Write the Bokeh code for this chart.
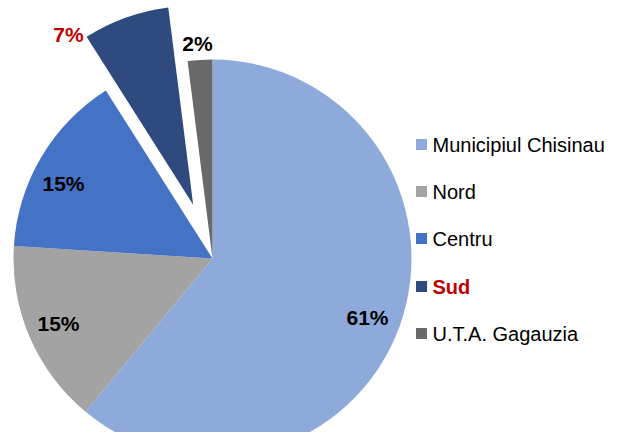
import numpy as np
from bokeh.plotting import figure
from bokeh.models import Range1d
from bokeh.core.properties import value
from bokeh.embed import file_html
from bokeh.resources import INLINE

# ---- data ----
regions = ["Municipiul Chisinau", "Nord", "Centru", "Sud", "U.T.A. Gagauzia"]
shares = [61, 15, 15, 7, 2]
labels = ["61%", "15%", "15%", "7%", "2%"]

# ---- style ----
colors = ["#8EAADB", "#A3A3A3", "#4472C4", "#2E4A7E", "#6A6A6A"]
label_colors = ["#000000", "#000000", "#000000", "#C00000", "#000000"]
legend_colors = ["#000000", "#000000", "#000000", "#C00000", "#000000"]
legend_styles = ["normal", "normal", "normal", "bold", "normal"]
explode = [0, 0, 0, 57, 0]

W, H = 611, 432
cx, cy, R = 212, 174, 199

p = figure(width=W, height=H, output_backend="svg", toolbar_location=None,
           x_range=Range1d(0, W), y_range=Range1d(0, H),
           x_axis_type=None, y_axis_type=None, min_border=0)
p.outline_line_color = None
p.grid.visible = False
p.background_fill_color = "white"

vals = np.array(shares, dtype=float)
frac = vals / vals.sum()
ends = np.cumsum(frac) * 2 * np.pi          # clockwise from 12 o'clock
starts = ends - frac * 2 * np.pi
mids = (starts + ends) / 2

for i in range(len(regions)):
    ox = explode[i] * np.sin(mids[i])
    oy = explode[i] * np.cos(mids[i])
    p.wedge(x=cx + ox, y=cy + oy, radius=R,
            start_angle=np.pi / 2 - ends[i], end_angle=np.pi / 2 - starts[i],
            fill_color=colors[i], line_color=None)

# data labels (layout positions)
label_x = [367, 58, 63, 68, 197]
label_y = [115, 109, 249, 398, 389]
p.text(x=label_x, y=label_y, text=labels, text_color=label_colors,
       text_font=value("Liberation Sans"), text_font_style="bold",
       text_font_size="21px", text_align="center", text_baseline="middle")

# legend
leg_y = [288, 241, 194, 146, 99]
p.rect(x=[421] * 5, y=leg_y, width=11, height=11, fill_color=colors, line_color=None)
for i in range(len(regions)):
    p.text(x=[432], y=[leg_y[i]], text=[regions[i]], text_color=legend_colors[i],
           text_font=value("Liberation Sans"), text_font_style=legend_styles[i],
           text_font_size="20px", text_align="left", text_baseline="middle")

open("out.html", "w").write(file_html(p, INLINE))
